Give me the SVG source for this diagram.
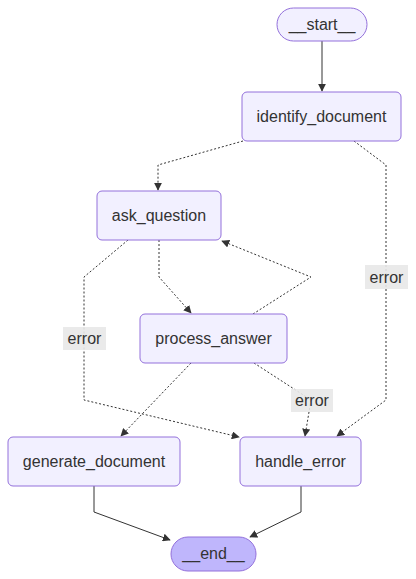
<svg xmlns="http://www.w3.org/2000/svg" width="416" height="579" viewBox="0 0 416 579">
<defs>
<style>
.node rect{fill:#f2f0ff;stroke:#9370db;stroke-width:1}
.term rect{fill:#f2f0ff;stroke:#9370db;stroke-width:1}
#end rect{fill:#bfb6fc}
text{font-family:"Liberation Sans",Arial,sans-serif;font-size:16px;fill:#333;text-anchor:middle;dominant-baseline:central}
.e{fill:none;stroke:#333;stroke-width:1}
.d{stroke-dasharray:2 2;stroke-width:1}
.lbl rect{fill:#e8e8e8;opacity:0.9}
</style>
<marker id="ah" viewBox="0 0 10 10" refX="9" refY="5" markerWidth="8" markerHeight="8" orient="auto" markerUnits="userSpaceOnUse">
<path d="M0,0 L10,5 L0,10 z" fill="#333"/>
</marker>
</defs>
<rect width="416" height="579" fill="#fff"/>
<g id="edges">
<path class="e" d="M322,41 L322,91" marker-end="url(#ah)"/>
<path class="e d" d="M243,141 L158,165 L158,190" marker-end="url(#ah)"/>
<path class="e d" d="M354,141 L386,165 L386,400 L337,436" marker-end="url(#ah)"/>
<path class="e d" d="M159,240 L159,277 L191,313" marker-end="url(#ah)"/>
<path class="e d" d="M253,314 L311,277 L222,241" marker-end="url(#ah)"/>
<path class="e d" d="M128,240 L84,277 L84,400 L239,437" marker-end="url(#ah)"/>
<path class="e d" d="M191,363 L121,436" marker-end="url(#ah)"/>
<path class="e d" d="M254,363 L311,400 L305,436" marker-end="url(#ah)"/>
<path class="e" d="M94,486 L94,512 L170,540" marker-end="url(#ah)"/>
<path class="e" d="M301,486 L301,512 L250,537" marker-end="url(#ah)"/>
</g>
<g id="labels">
<g class="lbl"><rect x="365" y="265" width="43" height="24"/><text x="386.5" y="277">error</text></g>
<g class="lbl"><rect x="63" y="327" width="43" height="23"/><text x="84.5" y="338.5">error</text></g>
<g class="lbl"><rect x="291" y="389" width="42" height="23"/><text x="312" y="400.5">error</text></g>
</g>
<g id="start" class="term"><rect x="277" y="8" width="90" height="33" rx="16.5"/><text x="322" y="24.5">__start__</text></g>
<g id="identify_document" class="node"><rect x="242" y="92" width="159" height="49" rx="5"/><text x="321.5" y="116.5">identify_document</text></g>
<g id="ask_question" class="node"><rect x="97" y="191" width="124" height="49" rx="5"/><text x="159" y="215.5">ask_question</text></g>
<g id="process_answer" class="node"><rect x="140" y="314" width="147" height="49" rx="5"/><text x="213.5" y="338.5">process_answer</text></g>
<g id="generate_document" class="node"><rect x="8" y="437" width="172" height="49" rx="5"/><text x="94" y="461.5">generate_document</text></g>
<g id="handle_error" class="node"><rect x="240" y="437" width="121" height="49" rx="5"/><text x="300.5" y="461.5">handle_error</text></g>
<g id="end" class="term"><rect x="171" y="537" width="85" height="34" rx="17"/><text x="213.5" y="553.5">__end__</text></g>
</svg>
